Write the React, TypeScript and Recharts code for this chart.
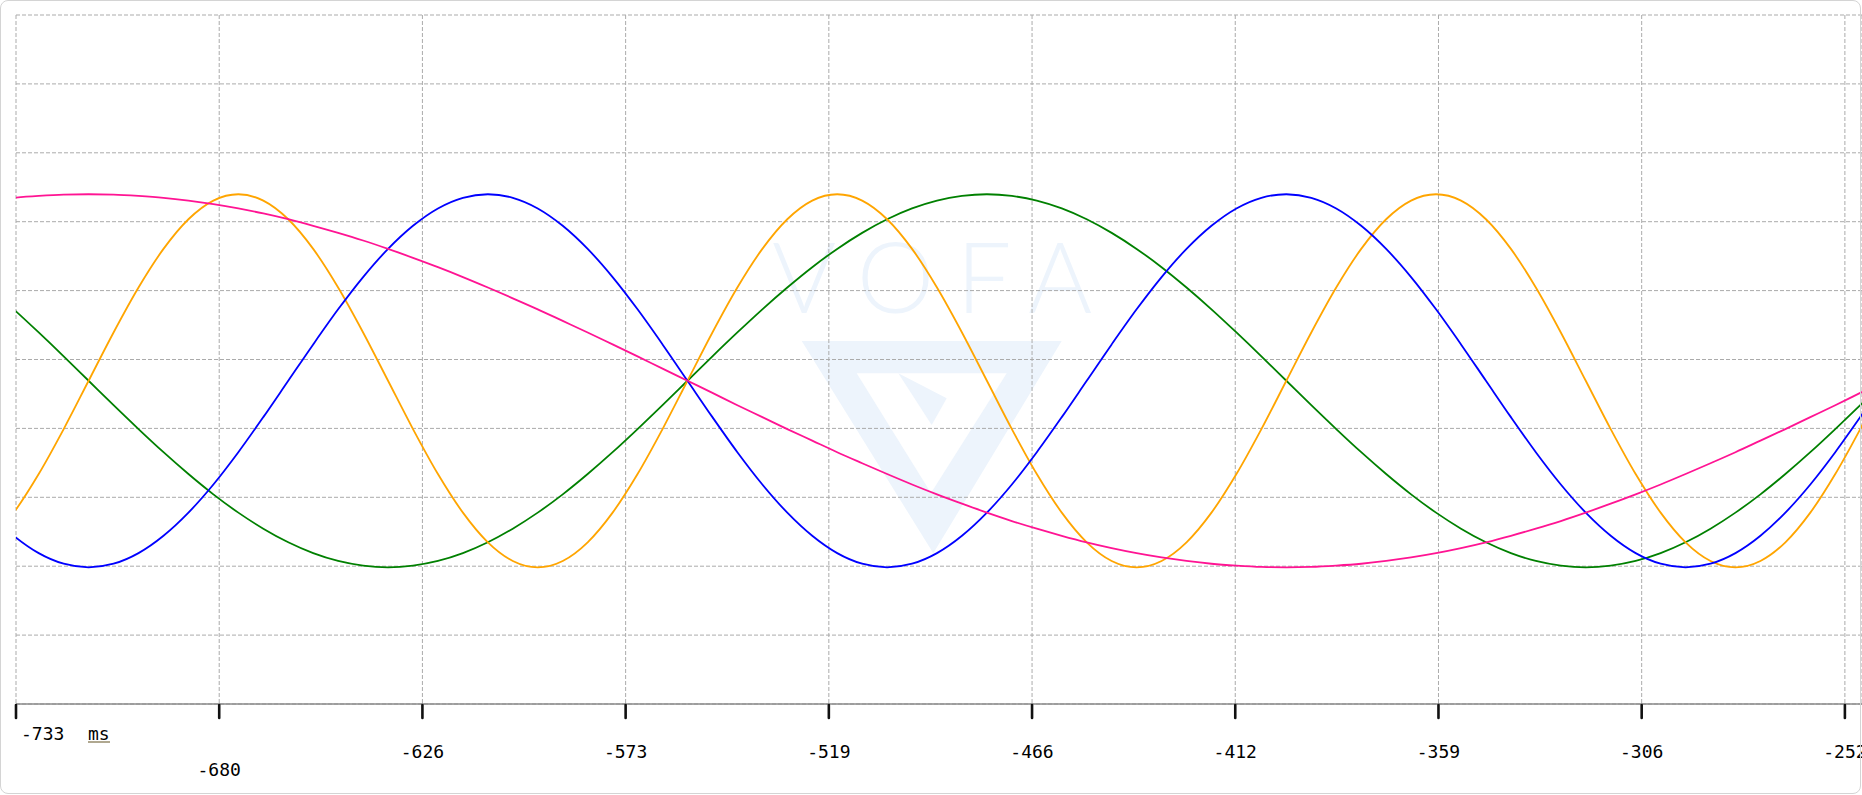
import * as React from 'react';
import { LineChart, Line, XAxis, YAxis, CartesianGrid } from 'recharts';

const timeMs = [
  -740.15, -733.59, -727.03, -720.46, -713.9, -707.34, -700.78, -694.21, -687.65, -681.09,
  -674.53, -667.96, -661.4, -654.84, -648.28, -641.71, -635.15, -628.59, -622.03, -615.46,
  -608.9, -602.34, -595.78, -589.21, -582.65, -576.09, -569.53, -562.96, -556.4, -549.84,
  -543.28, -536.71, -530.15, -523.59, -517.03, -510.46, -503.9, -497.34, -490.78, -484.21,
  -477.65, -471.09, -464.53, -457.96, -451.4, -444.84, -438.28, -431.71, -425.15, -418.59,
  -412.03, -405.46, -398.9, -392.34, -385.78, -379.21, -372.65, -366.09, -359.53, -352.96,
  -346.4, -339.84, -333.28, -326.71, -320.15, -313.59, -307.03, -300.46, -293.9, -287.34,
  -280.78, -274.21, -267.65, -261.09, -254.53, -247.96, -241.4,
];

const ch1Pink = [
  96.6, 98.1, 99.1, 99.8, 100, 99.8, 99.1, 98.1, 96.6, 94.7,
  92.4, 89.7, 86.6, 83.1, 79.3, 75.2, 70.7, 65.9, 60.9, 55.6,
  50.0, 44.2, 38.3, 32.1, 25.9, 19.5, 13.1, 6.5, 0, -6.5,
  -13.1, -19.5, -25.9, -32.1, -38.3, -44.2, -50.0, -55.6, -60.9, -65.9,
  -70.7, -75.2, -79.3, -83.1, -86.6, -89.7, -92.4, -94.7, -96.6, -98.1,
  -99.1, -99.8, -100, -99.8, -99.1, -98.1, -96.6, -94.7, -92.4, -89.7,
  -86.6, -83.1, -79.3, -75.2, -70.7, -65.9, -60.9, -55.6, -50.0, -44.2,
  -38.3, -32.1, -25.9, -19.5, -13.1, -6.5, 0,
];

const ch2Green = [
  50.0, 38.3, 25.9, 13.1, 0, -13.1, -25.9, -38.3, -50.0, -60.9,
  -70.7, -79.3, -86.6, -92.4, -96.6, -99.1, -100, -99.1, -96.6, -92.4,
  -86.6, -79.3, -70.7, -60.9, -50.0, -38.3, -25.9, -13.1, 0, 13.1,
  25.9, 38.3, 50.0, 60.9, 70.7, 79.3, 86.6, 92.4, 96.6, 99.1,
  100, 99.1, 96.6, 92.4, 86.6, 79.3, 70.7, 60.9, 50.0, 38.3,
  25.9, 13.1, 0, -13.1, -25.9, -38.3, -50.0, -60.9, -70.7, -79.3,
  -86.6, -92.4, -96.6, -99.1, -100, -99.1, -96.6, -92.4, -86.6, -79.3,
  -70.7, -60.9, -50.0, -38.3, -25.9, -13.1, 0,
];

const ch3Blue = [
  -70.7, -83.1, -92.4, -98.1, -100, -98.1, -92.4, -83.1, -70.7, -55.6,
  -38.3, -19.5, 0, 19.5, 38.3, 55.6, 70.7, 83.1, 92.4, 98.1,
  100, 98.1, 92.4, 83.1, 70.7, 55.6, 38.3, 19.5, 0, -19.5,
  -38.3, -55.6, -70.7, -83.1, -92.4, -98.1, -100, -98.1, -92.4, -83.1,
  -70.7, -55.6, -38.3, -19.5, 0, 19.5, 38.3, 55.6, 70.7, 83.1,
  92.4, 98.1, 100, 98.1, 92.4, 83.1, 70.7, 55.6, 38.3, 19.5,
  0, -19.5, -38.3, -55.6, -70.7, -83.1, -92.4, -98.1, -100, -98.1,
  -92.4, -83.1, -70.7, -55.6, -38.3, -19.5, 0,
];

const ch4Orange = [
  -86.6, -70.7, -50.0, -25.9, 0, 25.9, 50.0, 70.7, 86.6, 96.6,
  100, 96.6, 86.6, 70.7, 50.0, 25.9, 0, -25.9, -50.0, -70.7,
  -86.6, -96.6, -100, -96.6, -86.6, -70.7, -50.0, -25.9, 0, 25.9,
  50.0, 70.7, 86.6, 96.6, 100, 96.6, 86.6, 70.7, 50.0, 25.9,
  0, -25.9, -50.0, -70.7, -86.6, -96.6, -100, -96.6, -86.6, -70.7,
  -50.0, -25.9, 0, 25.9, 50.0, 70.7, 86.6, 96.6, 100, 96.6,
  86.6, 70.7, 50.0, 25.9, 0, -25.9, -50.0, -70.7, -86.6, -96.6,
  -100, -96.6, -86.6, -70.7, -50.0, -25.9, 0,
];

const tickLabels = ['-733', '-680', '-626', '-573', '-519', '-466', '-412', '-359', '-306', '-252'];
const unitLabel = 'ms';

const X_FIRST = -733;
const X_LAST = -252;
const X_VIEW_END = -247.5;
const Y_DOMAIN: [number, number] = [-173.3, 196.1];

const W = 1862;
const H = 795;
const MONO = '"DejaVu Sans Mono", "Liberation Mono", monospace';

const tickValues = tickLabels.map(
  (_, i) => X_FIRST + (i * (X_LAST - X_FIRST)) / (tickLabels.length - 1),
);
const yTicks = Array.from(
  { length: 11 },
  (_, i) => Y_DOMAIN[0] + (i * (Y_DOMAIN[1] - Y_DOMAIN[0])) / 10,
);

const data = timeMs.map((t, i) => ({
  t,
  ch1: ch1Pink[i],
  ch2: ch2Green[i],
  ch3: ch3Blue[i],
  ch4: ch4Orange[i],
}));

function TimeTick(props: any) {
  const { x, y, index } = props;
  const label = tickLabels[index];
  const mark = (
    <line x1={x} y1={y + 1} x2={x} y2={y + 14} stroke="#111" strokeWidth={2.6} strokeLinecap="round" />
  );
  if (index === 0) {
    return (
      <g>
        {mark}
        <text x={x + 5} y={y + 36} fontFamily={MONO} fontSize={18} fill="#000">
          {label}
        </text>
        <text x={x + 72} y={y + 36} fontFamily={MONO} fontSize={18} fill="#000">
          {unitLabel}
        </text>
        <line x1={x + 72} y1={y + 38} x2={x + 94} y2={y + 38} stroke="#b0a890" strokeWidth={2} />
      </g>
    );
  }
  return (
    <g>
      {mark}
      <text
        x={x}
        y={y + (index === 1 ? 72 : 54)}
        textAnchor="middle"
        fontFamily={MONO}
        fontSize={18}
        fill="#000"
      >
        {label}
      </text>
    </g>
  );
}

function Watermark() {
  const c = '#edf4fc';
  return (
    <svg width={W} height={H} style={{ position: 'absolute', left: 0, top: 0 }}>
      <text
        x={772}
        y={313}
        fontFamily="Lato, 'Noto Sans', sans-serif"
        fontWeight={300}
        fontSize={98}
        letterSpacing={22}
        fill={c}
      >
        VOFA
      </text>
      <polygon points="801.7,341 1061.7,341 933.3,553.3" fill={c} />
      <polygon points="856.7,373.3 1006.7,373.3 931,493" fill="#fff" />
      <polygon points="898.3,373.3 946.7,398.3 931.7,425" fill={c} />
    </svg>
  );
}

export default function App() {
  return (
    <div style={{ position: 'fixed', left: 0, top: 0, width: W, height: H, background: '#fff' }}>
      <Watermark />
      <div style={{ position: 'absolute', left: 0, top: 0 }}>
        <LineChart width={W} height={H} data={data} margin={{ top: 15, right: 0, bottom: 0, left: 16 }}>
          <CartesianGrid stroke="#ababab" strokeDasharray="4 2" />
          <XAxis
            dataKey="t"
            type="number"
            domain={[X_FIRST, X_VIEW_END]}
            allowDataOverflow
            ticks={tickValues}
            interval={0}
            height={91}
            tickSize={0}
            tickMargin={0}
            tickLine={false}
            axisLine={{ stroke: '#8a8a8a', strokeWidth: 1.6 }}
            tick={<TimeTick />}
          />
          <YAxis type="number" domain={Y_DOMAIN} ticks={yTicks} allowDataOverflow hide />
          <Line type="monotone" dataKey="ch2" stroke="#008000" strokeWidth={1.8} dot={false} activeDot={false} isAnimationActive={false} />
          <Line type="monotone" dataKey="ch4" stroke="#ffa500" strokeWidth={1.8} dot={false} activeDot={false} isAnimationActive={false} />
          <Line type="monotone" dataKey="ch3" stroke="#0000ff" strokeWidth={1.8} dot={false} activeDot={false} isAnimationActive={false} />
          <Line type="monotone" dataKey="ch1" stroke="#ff1493" strokeWidth={1.8} dot={false} activeDot={false} isAnimationActive={false} />
        </LineChart>
      </div>
      <div
        style={{
          position: 'absolute',
          left: 0,
          top: 0,
          width: W - 1,
          height: H - 1,
          boxSizing: 'border-box',
          border: '1px solid #d4d4d4',
          borderRadius: 8,
          pointerEvents: 'none',
        }}
      />
    </div>
  );
}
